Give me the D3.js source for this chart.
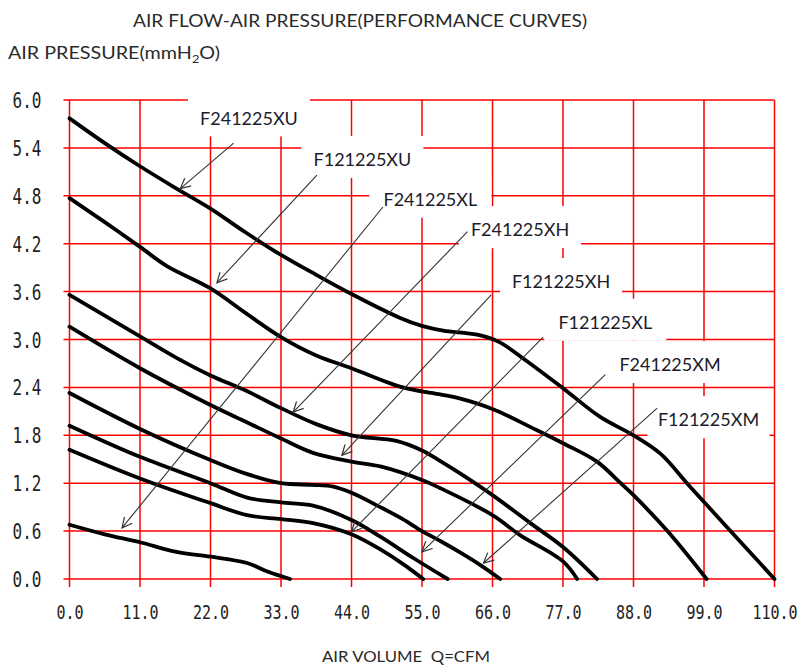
<!DOCTYPE html>
<html>
<head>
<meta charset="utf-8">
<script src="https://cdn.jsdelivr.net/npm/d3@7"></script>
<style>
  body { margin: 0; background: #fff; }
  svg { display: block; }
</style>
</head>
<body>
<svg id="chart" width="797" height="665"></svg>
<script>
// tick values
const xTicks = [0, 11, 22, 33, 44, 55, 66, 77, 88, 99, 110];
const yTicks = [0, 0.6, 1.2, 1.8, 2.4, 3.0, 3.6, 4.2, 4.8, 5.4, 6.0];

// curves: [air volume CFM, air pressure mmH2O]
const f241225xu = [[0,5.77],[5.5,5.46],[11,5.17],[16.5,4.9],[22,4.64],[27.5,4.34],[33,4.06],[38.5,3.81],[44,3.57],[51.6,3.27],[55,3.17],[58.3,3.11],[63.6,3.06],[67,2.97],[71,2.75],[77,2.39],[82.8,2.03],[88,1.8],[92.2,1.57],[96.9,1.15],[110,0]];
const f121225xu = [[0,4.77],[5.5,4.47],[11,4.16],[15.2,3.92],[22,3.64],[27.5,3.33],[33,3.03],[38.5,2.8],[44,2.64],[52,2.4],[58,2.31],[61,2.26],[66,2.13],[72.5,1.88],[77,1.7],[82.3,1.47],[86,1.2],[88,1.05],[93.3,0.6],[99.4,0]];
const f241225xh = [[0,3.56],[11,3.04],[16.7,2.77],[22,2.55],[27.5,2.36],[33,2.14],[38.5,1.94],[44,1.8],[51,1.73],[55,1.61],[57.8,1.48],[61,1.32],[66,1.05],[71.9,0.7],[77,0.4],[82.3,0]];
const f121225xh = [[0,3.16],[11,2.64],[22,2.18],[27.5,1.97],[33,1.76],[38,1.58],[44,1.47],[48.5,1.41],[55,1.24],[57.8,1.14],[66,0.8],[70.3,0.55],[77,0.22],[79.2,0]];
const f121225xm = [[0,2.33],[11,1.88],[22,1.49],[27.5,1.32],[33,1.2],[38,1.18],[41,1.16],[44,1.08],[48.5,0.9],[52,0.75],[55,0.6],[58,0.47],[61,0.33],[64,0.18],[67.2,0]];
const f241225xm = [[0,1.92],[11,1.53],[22,1.2],[27.7,1.02],[33,0.96],[38,0.92],[44,0.74],[48.5,0.53],[53.7,0.26],[59,0]];
const f121225xl = [[0,1.62],[11,1.26],[22,0.95],[27.7,0.8],[33,0.75],[38,0.7],[44,0.56],[48.5,0.37],[52,0.19],[55.2,0]];
const f241225xl = [[0,0.68],[5.5,0.56],[11,0.46],[16.7,0.34],[22,0.28],[27.7,0.2],[31,0.09],[34.4,0]];

const curves = [f241225xu, f121225xu, f241225xh, f121225xh, f121225xm, f241225xm, f121225xl, f241225xl];

// model labels, their place (data units) and where their arrow starts / points to
const labelNames = ["F241225XU", "F121225XU", "F241225XL", "F241225XH", "F121225XH", "F121225XL", "F241225XM", "F121225XM"];
const labelAt   = [[28.0,5.77],[45.7,5.25],[56.3,4.75],[70.3,4.37],[76.7,3.72],[83.6,3.21],[93.7,2.68],[99.7,1.99]];
const arrowFrom = [[25.6,5.46],[38.6,5.06],[48.9,4.66],[62.1,4.35],[65.8,3.56],[73.9,3.03],[83.6,2.56],[91.7,2.14]];
const arrowTo   = [[17.3,4.89],[23.0,3.71],[8.2,0.64],[34.9,2.09],[42.5,1.55],[44.0,0.59],[55.0,0.34],[64.6,0.20]];

const width = 797, height = 665;
const margin = { top: 100, right: 22.5, bottom: 86, left: 69.5 };
const innerWidth = width - margin.left - margin.right;
const innerHeight = height - margin.top - margin.bottom;

const svg = d3.select("#chart");
const g = svg.append("g").attr("transform", `translate(${margin.left},${margin.top})`);

const x = d3.scaleLinear().domain([0, 110]).range([0, innerWidth]);
const y = d3.scaleLinear().domain([0, 6]).range([innerHeight, 0]);

// red grid, lines run a little past the frame as tick marks
const grid = g.append("g").attr("stroke", "#ff0000").attr("stroke-width", 1.5);
grid.selectAll(".hl").data(yTicks).enter().append("line")
    .attr("x1", -6).attr("x2", innerWidth)
    .attr("y1", d => y(d)).attr("y2", d => y(d));
grid.selectAll(".vl").data(xTicks).enter().append("line")
    .attr("x1", d => x(d)).attr("x2", d => x(d))
    .attr("y1", 0).attr("y2", innerHeight + 8);

// white boxes behind the labels cut the grid
g.append("g").selectAll("rect").data(labelAt).enter().append("rect")
    .attr("x", d => x(d[0]) - 61)
    .attr("y", d => y(d[1]) - 24)
    .attr("width", 122)
    .attr("height", 42)
    .attr("fill", "#fff");

// axes (labels only), tick figures drawn tall and narrow like the original
const xAxis = g.append("g")
    .attr("transform", `translate(0,${innerHeight})`)
    .call(d3.axisBottom(x).tickValues(xTicks).tickFormat(d3.format(".1f")).tickSize(0));
const yAxis = g.append("g")
    .call(d3.axisLeft(y).tickValues(yTicks).tickFormat(d3.format(".1f")).tickSize(0).tickPadding(28));
[xAxis, yAxis].forEach(a => {
    a.select(".domain").remove();
    a.selectAll(".tick line").remove();
    a.selectAll("text")
        .style("font-family", "'DejaVu Sans Mono', monospace")
        .attr("fill", "#222")
        .attr("transform", "scale(1,1.3)");
});
yAxis.selectAll("text").style("font-size", "16px").attr("dy", 5.8);
xAxis.selectAll("text").style("font-size", "15px").attr("y", 31).attr("dy", 0);

// performance curves
const line = d3.line()
    .x(d => x(d[0]))
    .y(d => y(d[1]))
    .curve(d3.curveCatmullRom.alpha(0.5));

g.append("g").selectAll("path").data(curves).enter().append("path")
    .attr("d", line)
    .attr("fill", "none")
    .attr("stroke", "#000")
    .attr("stroke-width", 3.8)
    .attr("stroke-linecap", "round")
    .attr("stroke-linejoin", "round");

// arrows
svg.append("defs").append("marker")
    .attr("id", "arrow")
    .attr("viewBox", "0 0 12 12")
    .attr("refX", 11).attr("refY", 6)
    .attr("markerWidth", 12).attr("markerHeight", 12)
    .attr("markerUnits", "userSpaceOnUse")
    .attr("orient", "auto")
  .append("path")
    .attr("d", "M1,1 L11,6 L1,11")
    .attr("fill", "none")
    .attr("stroke", "#333")
    .attr("stroke-width", 1.2);

g.append("g").selectAll("line").data(arrowFrom).enter().append("line")
    .attr("x1", d => x(d[0])).attr("y1", d => y(d[1]))
    .attr("x2", (d, i) => x(arrowTo[i][0])).attr("y2", (d, i) => y(arrowTo[i][1]))
    .attr("stroke", "#333")
    .attr("stroke-width", 1.1)
    .attr("marker-end", "url(#arrow)");

// model names
g.append("g").selectAll("text").data(labelAt).enter().append("text")
    .attr("x", d => x(d[0]))
    .attr("y", d => y(d[1]))
    .attr("dy", "0.35em")
    .attr("text-anchor", "middle")
    .style("font-family", "Lato, sans-serif")
    .style("font-size", "18px")
    .attr("fill", "#1c1c2c")
    .text((d, i) => labelNames[i]);

// titles
svg.append("text")
    .attr("x", 133).attr("y", 27)
    .attr("textLength", 454).attr("lengthAdjust", "spacingAndGlyphs")
    .style("font-family", "Lato, sans-serif").style("font-size", "17px")
    .attr("fill", "#2a2a2a")
    .text("AIR FLOW-AIR PRESSURE(PERFORMANCE CURVES)");

const yTitle = svg.append("text")
    .attr("x", 8).attr("y", 59)
    .attr("textLength", 212).attr("lengthAdjust", "spacingAndGlyphs")
    .style("font-family", "Lato, sans-serif").style("font-size", "17px")
    .attr("fill", "#2a2a2a");
yTitle.append("tspan").text("AIR PRESSURE(mmH");
yTitle.append("tspan").attr("dy", 4).style("font-size", "11px").text("2");
yTitle.append("tspan").attr("dy", -4).text("O)");

svg.append("text")
    .attr("x", 322).attr("y", 662)
    .attr("textLength", 168).attr("lengthAdjust", "spacingAndGlyphs")
    .style("font-family", "Lato, sans-serif").style("font-size", "16px")
    .attr("fill", "#2a2a2a")
    .style("white-space", "pre")
    .text("AIR VOLUME  Q=CFM");
</script>
</body>
</html>
